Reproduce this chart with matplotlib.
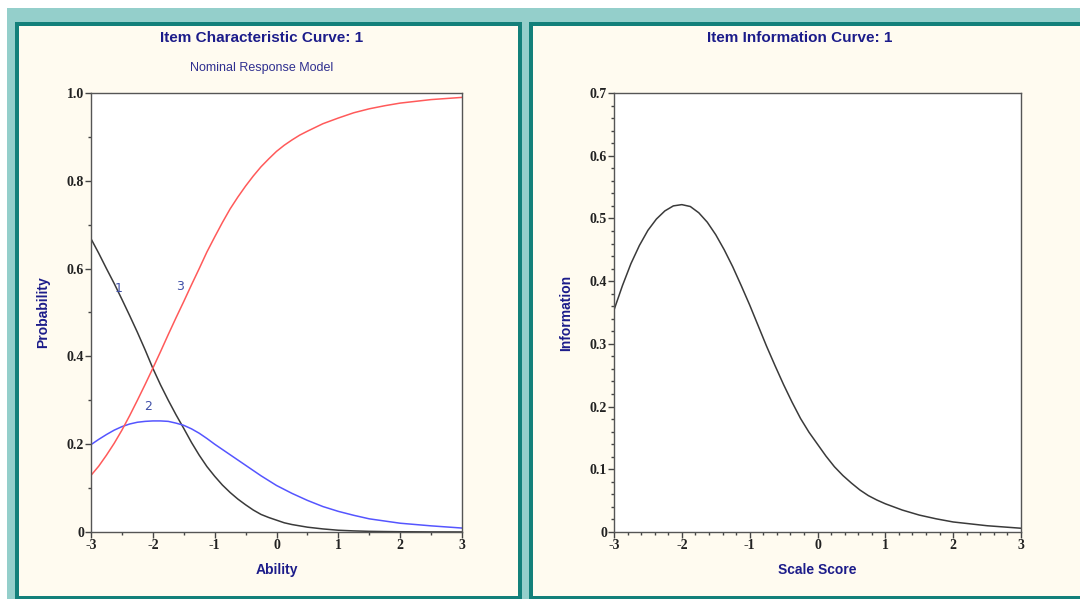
import matplotlib
matplotlib.use("Agg")
import matplotlib.pyplot as plt
from matplotlib.patches import Rectangle
from matplotlib.ticker import MultipleLocator

# Item characteristic curves (nominal response model)
ability = [-3, -2.875, -2.75, -2.625, -2.5, -2.375, -2.25, -2.125, -2, -1.875, -1.75, -1.625,
           -1.5, -1.375, -1.25, -1.125, -1, -0.875, -0.75, -0.625, -0.5, -0.375, -0.25, -0.125,
           0, 0.125, 0.25, 0.375, 0.5, 0.75, 1, 1.25, 1.5, 1.75, 2, 2.5, 3]
prob_cat1 = [0.668, 0.635, 0.600, 0.566, 0.530, 0.493, 0.455, 0.415, 0.373, 0.335, 0.300, 0.267,
             0.236, 0.204, 0.175, 0.149, 0.127, 0.107, 0.090, 0.075, 0.062, 0.050, 0.040, 0.033,
             0.027, 0.021, 0.017, 0.014, 0.011, 0.007, 0.004, 0.0025, 0.0015, 0.001, 0.0006,
             0.0002, 0.0001]
prob_cat2 = [0.199, 0.211, 0.222, 0.232, 0.240, 0.246, 0.250, 0.252, 0.253, 0.253, 0.252, 0.248,
             0.243, 0.235, 0.225, 0.213, 0.200, 0.188, 0.176, 0.164, 0.152, 0.140, 0.128, 0.117,
             0.106, 0.097, 0.088, 0.080, 0.072, 0.058, 0.047, 0.038, 0.030, 0.025, 0.020,
             0.014, 0.009]
prob_cat3 = [0.129, 0.150, 0.175, 0.202, 0.232, 0.265, 0.300, 0.336, 0.373, 0.411, 0.450, 0.488,
             0.525, 0.563, 0.600, 0.638, 0.672, 0.705, 0.736, 0.763, 0.788, 0.811, 0.832, 0.850,
             0.867, 0.881, 0.893, 0.904, 0.913, 0.930, 0.943, 0.955, 0.964, 0.971, 0.977,
             0.985, 0.990]

# Item information curve
scale_score = [-3, -2.875, -2.75, -2.625, -2.5, -2.375, -2.25, -2.125, -2, -1.875, -1.75, -1.625,
               -1.5, -1.375, -1.25, -1.125, -1, -0.875, -0.75, -0.625, -0.5, -0.375, -0.25, -0.125,
               0, 0.125, 0.25, 0.375, 0.5, 0.625, 0.75, 0.875, 1, 1.25, 1.5, 1.75, 2, 2.25,
               2.5, 2.75, 3]
information = [0.354, 0.393, 0.428, 0.457, 0.481, 0.499, 0.512, 0.520, 0.522, 0.519, 0.509, 0.494,
               0.474, 0.450, 0.423, 0.393, 0.362, 0.329, 0.296, 0.265, 0.235, 0.207, 0.181, 0.159,
               0.140, 0.121, 0.104, 0.090, 0.078, 0.067, 0.058, 0.051, 0.045, 0.035, 0.027,
               0.021, 0.016, 0.013, 0.010, 0.008, 0.006]

x_ticks = [-3, -2, -1, 0, 1, 2, 3]
x_labels = ["-3", "-2", "-1", "0", "1", "2", "3"]
icc_yticks = [0, 0.2, 0.4, 0.6, 0.8, 1.0]
icc_ylabels = ["0", "0.2", "0.4", "0.6", "0.8", "1.0"]
iic_yticks = [0, 0.1, 0.2, 0.3, 0.4, 0.5, 0.6, 0.7]
iic_ylabels = ["0", "0.1", "0.2", "0.3", "0.4", "0.5", "0.6", "0.7"]

NAVY = "#1c1c8a"
TEAL_LIGHT = "#94cfcb"
TEAL_DARK = "#13807a"
CREAM = "#fffbf0"
W, H = 1080, 599

fig = plt.figure(figsize=(10.8, 5.99), dpi=100)
fig.patch.set_facecolor("white")


def px_rect(x0, y0, x1, y1, color):
    # rectangle in pixel coords (y measured from the top)
    fig.patches.append(Rectangle((x0 / W, 1 - y1 / H), (x1 - x0) / W, (y1 - y0) / H,
                                 transform=fig.transFigure, facecolor=color,
                                 edgecolor="none", zorder=-10))


# window frame
px_rect(7, 8, W, H, TEAL_LIGHT)
px_rect(15, 22, 522, H, TEAL_DARK)
px_rect(19, 26, 518, 596, CREAM)
px_rect(529, 22, W, H, TEAL_DARK)
px_rect(533, 26, W, 596, CREAM)


def style_axes(ax, yticks, ylabels, yminor, xminor):
    ax.set_facecolor("white")
    for s in ax.spines.values():
        s.set_color("#555555")
        s.set_linewidth(1.0)
    ax.set_xlim(-3, 3)
    ax.set_xticks(x_ticks)
    ax.set_xticklabels(x_labels)
    ax.set_yticks(yticks)
    ax.set_yticklabels(ylabels)
    ax.xaxis.set_minor_locator(MultipleLocator(xminor))
    ax.yaxis.set_minor_locator(MultipleLocator(yminor))
    ax.tick_params(which="major", direction="out", length=4, width=1, color="#444444", pad=1)
    ax.tick_params(which="minor", direction="out", length=2, width=1, color="#444444")
    for lab in ax.get_xticklabels() + ax.get_yticklabels():
        lab.set_fontweight("bold")
        lab.set_family("Liberation Serif")
        lab.set_fontsize(10)
        lab.set_color("#222222")


# left: item characteristic curve
ax1 = fig.add_axes([91 / W, 1 - 532 / H, 371 / W, 439 / H])
ax1.plot(ability, prob_cat1, color="#3a3a3a", lw=1.1)
ax1.plot(ability, prob_cat2, color="#5555ff", lw=1.1)
ax1.plot(ability, prob_cat3, color="#ff5a5a", lw=1.1)
ax1.set_ylim(0, 1.0)
style_axes(ax1, icc_yticks, icc_ylabels, 0.1, 0.5)
ax1.text(-2.56, 0.555, "1", color="#4050a8", fontsize=9, ha="center", va="center")
ax1.text(-1.56, 0.56, "3", color="#4050a8", fontsize=9, ha="center", va="center")
ax1.text(-2.08, 0.285, "2", color="#4050a8", fontsize=9, ha="center", va="center")
ax1.set_xlabel("Ability", fontsize=10, fontweight="bold", color=NAVY,
               family="Liberation Sans", labelpad=8)
ax1.set_ylabel("Probability", fontsize=10, fontweight="bold", color=NAVY,
               family="Liberation Sans", labelpad=12)

fig.text(262 / W, 1 - 38 / H, "Item Characteristic Curve: 1", ha="center", va="center",
         fontsize=11, fontweight="bold", color=NAVY, family="Liberation Sans")
fig.text(262 / W, 1 - 68 / H, "Nominal Response Model", ha="center", va="center",
         fontsize=9, color="#303090", family="Liberation Sans")

# right: item information curve
ax2 = fig.add_axes([614 / W, 1 - 532 / H, 407 / W, 439 / H])
ax2.plot(scale_score, information, color="#3a3a3a", lw=1.1)
ax2.set_ylim(0, 0.7)
style_axes(ax2, iic_yticks, iic_ylabels, 0.02, 0.2)
ax2.set_xlabel("Scale Score", fontsize=10, fontweight="bold", color=NAVY,
               family="Liberation Sans", labelpad=8)
ax2.set_ylabel("Information", fontsize=10, fontweight="bold", color=NAVY,
               family="Liberation Sans", labelpad=12)

fig.text(800 / W, 1 - 38 / H, "Item Information Curve: 1", ha="center", va="center",
         fontsize=11, fontweight="bold", color=NAVY, family="Liberation Sans")

fig.savefig("out.png", dpi=100, facecolor=fig.get_facecolor())
